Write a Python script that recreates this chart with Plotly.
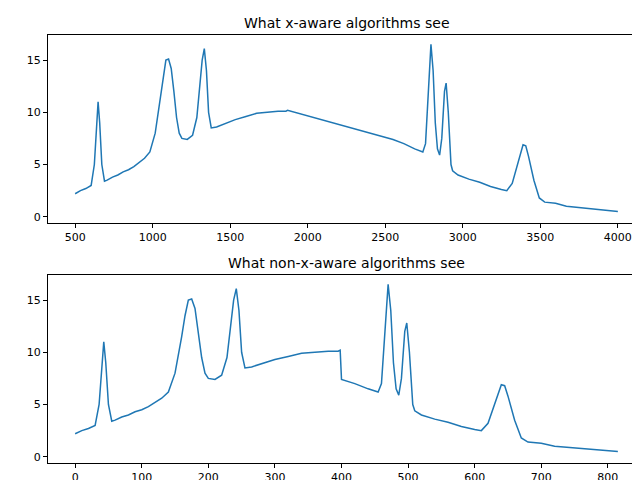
import numpy as np
import plotly.graph_objects as go
from plotly.subplots import make_subplots

# sample index and intensity
idx = [0, 10, 20, 30, 36, 40, 43, 46, 50, 55, 60, 70, 80, 90, 100, 110, 120, 130, 140, 150,
       160, 165, 170, 175, 180, 185, 190, 195, 200, 210, 220, 228, 233, 238, 242, 246, 250, 255,
       265, 280, 300, 320, 340, 360, 380, 395, 398,
       400, 420, 440, 455, 460, 465, 470, 474, 478, 482, 486, 490, 495, 498, 502, 507, 510, 520,
       540, 560, 580, 600, 610, 620, 630, 640, 645, 650, 660, 670, 680, 700, 720, 740, 760, 780,
       800, 815]
intensity = [2.2, 2.5, 2.7, 3.0, 5.0, 9.0, 11.0, 9.0, 5.0, 3.4, 3.5, 3.8, 4.0, 4.3, 4.5, 4.8, 5.2, 5.6, 6.2, 8.0,
             11.5, 13.5, 15.0, 15.1, 14.2, 12.0, 9.5, 8.0, 7.5, 7.4, 7.8, 9.5, 12.0, 15.0, 16.1, 14.0, 10.0, 8.5,
             8.6, 8.9, 9.3, 9.6, 9.9, 10.0, 10.1, 10.1, 10.2,
             7.4, 7.0, 6.5, 6.2, 7.0, 12.0, 16.5, 14.0, 9.0, 6.5, 5.9, 7.5, 12.0, 12.8, 10.0, 5.0, 4.4, 4.0,
             3.6, 3.3, 2.9, 2.6, 2.5, 3.2, 5.0, 6.9, 6.8, 5.8, 3.5, 1.8, 1.4, 1.3, 1.0, 0.9, 0.8, 0.7,
             0.6, 0.5]
# wavenumber at segment ends (index -> x)
seg_idx = [0, 398, 400, 815]
seg_x = [500, 1870, 2550, 4000]
wavenumber = [float(np.interp(i, seg_idx, seg_x)) for i in idx]

color = '#1f77b4'
fig = make_subplots(rows=2, cols=1)
fig.add_trace(go.Scatter(x=wavenumber, y=intensity, mode='lines', line=dict(color=color, width=1.5)), 1, 1)
fig.add_trace(go.Scatter(x=idx, y=intensity, mode='lines', line=dict(color=color, width=1.5)), 2, 1)

ax = dict(showgrid=False, zeroline=False, showline=True, mirror=True, linecolor='black', linewidth=1,
          ticks='outside', ticklen=4, tickcolor='black', tickfont=dict(size=11, color='black'))
fig.update_xaxes(**ax)
fig.update_yaxes(**ax)
fig.update_xaxes(range=[325, 4175], tickvals=list(range(500, 4001, 500)), domain=[0, 1], row=1, col=1)
fig.update_xaxes(range=[-40.75, 855.75], tickvals=list(range(0, 801, 100)), domain=[0, 1], row=2, col=1)
fig.update_yaxes(range=[-0.6, 17.4], tickvals=[0, 5, 10, 15], domain=[0.5607, 1], row=1, col=1)
fig.update_yaxes(range=[-0.6, 17.4], tickvals=[0, 5, 10, 15], domain=[0, 0.4393], row=2, col=1)

fig.update_layout(
    width=640, height=480, margin=dict(l=40, r=3, t=27, b=25, autoexpand=False),
    plot_bgcolor='white', paper_bgcolor='white', showlegend=False,
    font=dict(family='DejaVu Sans', color='black'),
    annotations=[
        dict(text='What x-aware algorithms see', x=0.5, y=1.0, xref='paper', yref='paper',
             xanchor='center', yanchor='bottom', yshift=2, showarrow=False, font=dict(size=14)),
        dict(text='What non-x-aware algorithms see', x=0.5, y=0.4393, xref='paper', yref='paper',
             xanchor='center', yanchor='bottom', yshift=2, showarrow=False, font=dict(size=14)),
    ],
)
fig.write_html("out.html")
